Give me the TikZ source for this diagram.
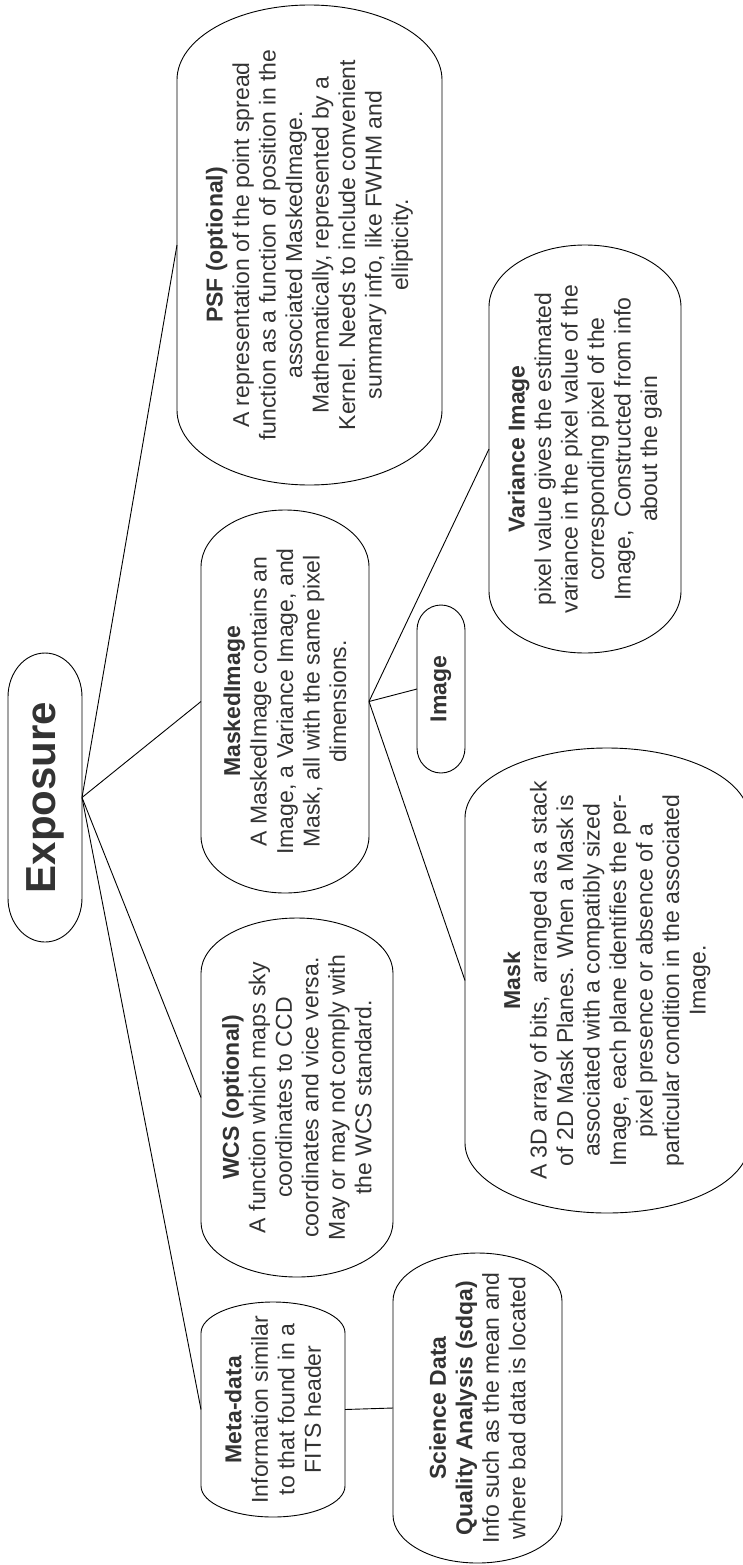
\documentclass[tikz,border=0pt]{standalone}
\usepackage{fontspec}
\setmainfont{Liberation Sans}
\definecolor{txt}{HTML}{333333}
\tikzset{
  outline/.style={draw=black, line width=0.9pt},
  box/.style={rotate=90, inner sep=0pt, outer sep=0pt, align=center, text=txt,
    font=\fontsize{23}{26.5}\selectfont},
  link/.style={draw=black, line width=0.9pt},
}
% #1 name, #2 x1, #3 y1, #4 x2, #5 y2 (pixel coords, y downward), #6 cap, #7 text
\newcommand\capnode[7]{%
  \draw[outline] (#2,{-#3-#6}) -- (#2,{-#5+#6})
    arc[start angle=180, end angle=360, x radius={(#4-#2)/2}, y radius=#6]
    -- (#4,{-#3-#6})
    arc[start angle=0, end angle=180, x radius={(#4-#2)/2}, y radius=#6] -- cycle;
  \node[box, minimum width={(#5-#3)*1pt}, minimum height={(#4-#2)*1pt}]
    (#1) at ({(#2+#4)/2},{-(#3+#5)/2}) {#7};
}
\begin{document}
\begin{tikzpicture}[x=1pt,y=1pt]
\useasboundingbox (0,0) rectangle (743,-1565);
\clip (0,0) rectangle (743,-1565);

\capnode{exposure}{8}{653}{82}{942}{44}{\fontsize{42}{48}\selectfont\textbf{Exposure}}
\capnode{psf}{177}{5}{442}{485}{75}{\textbf{PSF (optional)}\\A representation of the point spread\\function as a function of position in the\\associated MaskedImage.\\Mathematically, represented by a\\Kernel. Needs to include convenient\\summary info, like FWHM and\\ellipticity.}
\capnode{masked}{201}{510}{369}{893}{57}{\textbf{MaskedImage}\\A MaskedImage contains an\\Image, a Variance Image, and\\Mask, all with the same pixel\\dimensions.}
\capnode{variance}{489}{245}{681}{653}{62}{\textbf{Variance Image}\\pixel value gives the estimated\\variance in the pixel value of the\\corresponding pixel of the\\Image,~ Constructed from info\\about the gain}
\capnode{image}{417}{605}{465}{773}{25}{\textbf{Image}}
\capnode{mask}{465}{748}{749}{1213}{70}{\textbf{Mask}\\A 3D array of bits,~ arranged as a stack\\of 2D Mask Planes. When a Mask is\\associated with a compatibly sized\\Image, each plane identifies the per-\\pixel presence or absence of a\\particular condition in the associated\\Image.}
\capnode{wcs}{201}{918}{393}{1277}{55}{\textbf{WCS (optional)}\\A function which maps sky\\coordinates to CCD\\coordinates and vice versa.\\May or may not comply with\\the WCS standard.}
\capnode{meta}{201}{1302}{345}{1517}{31}{\textbf{Meta-data}\\Information similar\\to that found in a\\FITS header}
\capnode{sdqa}{393}{1253}{562}{1563}{48}{\textbf{Science Data}\\\textbf{Quality Analysis (sdqa)}\\Info such as the mean and\\where bad data is located}

\draw[link] (exposure.south) -- (psf.north);
\draw[link] (exposure.south) -- (masked.north);
\draw[link] (exposure.south) -- (wcs.north);
\draw[link] (exposure.south) -- (meta.north);
\draw[link] (masked.south) -- (variance.north);
\draw[link] (masked.south) -- (image.north);
\draw[link] (masked.south) -- (mask.north);
\draw[link] (meta.south) -- (sdqa.north);
\end{tikzpicture}
\end{document}
